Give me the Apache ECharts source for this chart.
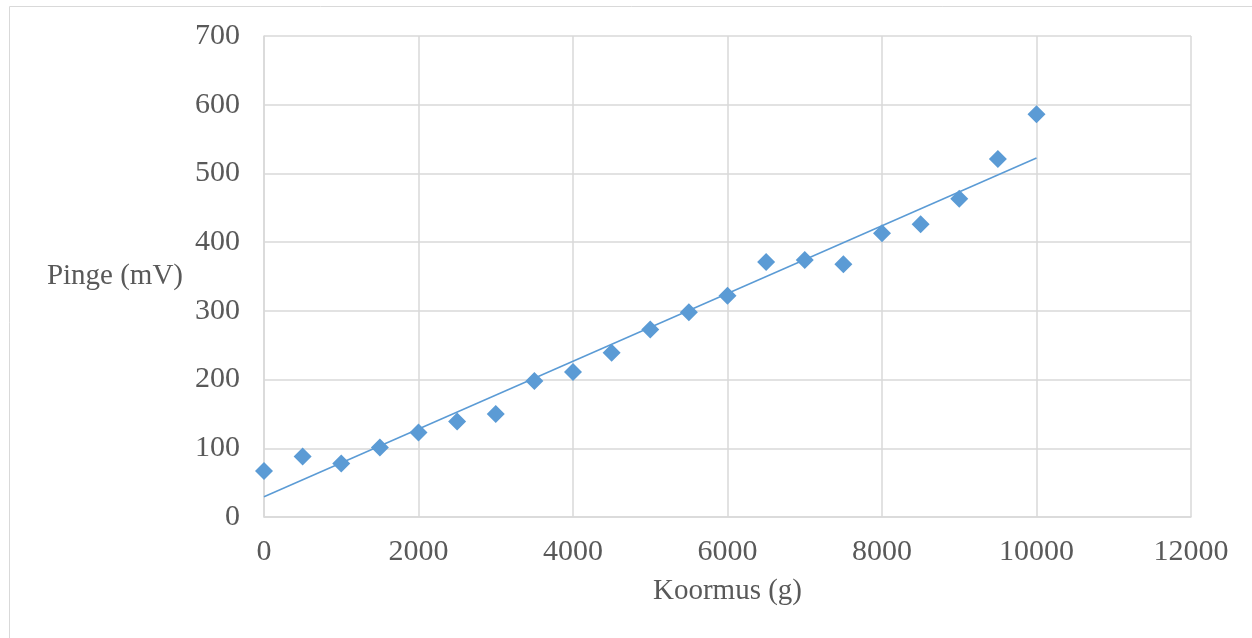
<!DOCTYPE html>
<html>
<head>
<meta charset="utf-8">
<script src="https://cdn.jsdelivr.net/npm/echarts@6/dist/echarts.min.js"></script>
<style>
  html, body { margin: 0; padding: 0; background: #fff; }
  #chart { width: 1252px; height: 638px; }
</style>
</head>
<body>
<div id="chart"></div>
<script>
const load = [0, 500, 1000, 1500, 2000, 2500, 3000, 3500, 4000, 4500, 5000,
  5500, 6000, 6500, 7000, 7500, 8000, 8500, 9000, 9500, 10000]
const voltage = [67, 88, 78, 101, 123, 139, 150, 198, 211, 239, 273,
  298, 322, 371, 374, 368, 413, 426, 463, 521, 586]
// trendline ends
const trendX = [0, 10000]
const trendY = [29.5, 522.5]

const chart = echarts.init(document.getElementById('chart'))
const grey = '#d9d9d9'
const txt = '#595959'
const serif = '"Liberation Serif", "Times New Roman", serif'

chart.setOption({
  animation: false,
  grid: {left: 264, right: 61, top: 36, bottom: 121},
  graphic: [{
    type: 'rect',
    shape: {x: 9.5, y: 6.5, width: 1300, height: 700},
    style: {fill: 'none', stroke: grey, lineWidth: 1},
    silent: true
  }],
  xAxis: {
    type: 'value',
    min: 0, max: 12000, interval: 2000,
    name: 'Koormus (g)',
    nameLocation: 'middle',
    nameGap: 60,
    nameTextStyle: {color: txt, fontFamily: serif, fontSize: 29},
    axisLine: {show: true, lineStyle: {color: grey, width: 1.5}},
    axisTick: {show: false},
    axisLabel: {
      color: txt, fontFamily: serif, fontSize: 30, margin: 20,
      formatter: v => String(v)
    },
    splitLine: {show: true, lineStyle: {color: grey, width: 1.5}}
  },
  yAxis: {
    type: 'value',
    min: 0, max: 700, interval: 100,
    name: 'Pinge (mV)',
    nameLocation: 'middle',
    nameRotate: 0,
    nameGap: 81,
    nameTextStyle: {color: txt, fontFamily: serif, fontSize: 29},
    axisLine: {show: true, lineStyle: {color: grey, width: 1.5}},
    axisTick: {show: false},
    axisLabel: {color: txt, fontFamily: serif, fontSize: 30, margin: 24},
    splitLine: {show: true, lineStyle: {color: grey, width: 1.5}}
  },
  series: [
    {
      type: 'line',
      data: trendX.map((x, i) => [x, trendY[i]]),
      symbol: 'none',
      lineStyle: {color: '#5b9bd5', width: 1.5},
      z: 2
    },
    {
      type: 'scatter',
      data: load.map((x, i) => [x, voltage[i]]),
      symbol: 'diamond',
      symbolSize: 18,
      itemStyle: {color: '#5b9bd5', opacity: 1},
      z: 3
    }
  ]
})
</script>
</body>
</html>
